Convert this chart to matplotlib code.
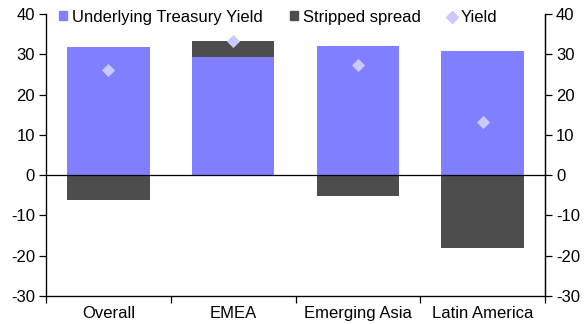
import matplotlib
matplotlib.use("Agg")
import matplotlib.pyplot as plt
import numpy as np
from matplotlib.lines import Line2D
from matplotlib.patches import Patch

plt.rcParams['font.family'] = ['Liberation Sans', 'DejaVu Sans']
plt.rcParams['font.size'] = 12
plt.rcParams['axes.unicode_minus'] = False

categories = ["Overall", "EMEA", "Emerging Asia", "Latin America"]
treasury = [31.8, 29.3, 32.0, 30.8]
spread = [-6.2, 4.0, -5.1, -18.0]
yield_ = [26.0, 33.3, 27.3, 13.3]

blue = "#7F7FFF"
dark = "#4D4D4D"
light = "#C9C9FF"

fig = plt.figure(figsize=(5.84, 3.24), dpi=100)
ax = fig.add_axes([46/584, 1 - 296/324, (545-46)/584, (296-14)/324])

x = np.arange(len(categories))
w = 0.66
ax.bar(x, treasury, w, color=blue, zorder=2)
bottoms = [t if s > 0 else 0 for t, s in zip(treasury, spread)]
ax.bar(x, spread, w, bottom=bottoms, color=dark, zorder=2)
ax.scatter(x, yield_, marker="D", s=45, color=light, zorder=3, linewidths=0)
ax.axhline(0, color="black", lw=0.9, zorder=4)

ax.set_xlim(-0.5, len(categories) - 0.5)
ax.set_ylim(-30, 40)
ax.set_yticks(range(-30, 41, 10))
ax.set_xticks(x)
ax.set_xticklabels(categories)
ax.set_xticks(np.arange(-0.5, len(categories), 1), minor=True)
ax.tick_params(axis="x", which="major", length=0, pad=7)
ax.tick_params(axis="x", which="minor", length=5, direction="out", width=0.9)
ax.tick_params(axis="y", length=5, direction="out", width=0.9, pad=3)
ax.spines["top"].set_visible(False)
for side in ["left", "bottom", "right"]:
    ax.spines[side].set_linewidth(0.9)

ax2 = ax.twinx()
ax2.set_ylim(-30, 40)
ax2.set_yticks(range(-30, 41, 10))
ax2.tick_params(axis="y", length=5, direction="out", width=0.9, pad=3)
ax2.spines["top"].set_visible(False)
ax2.spines["right"].set_linewidth(0.9)

handles = [
    Patch(color=blue, label="Underlying Treasury Yield"),
    Patch(color=dark, label="Stripped spread"),
    Line2D([], [], marker="D", color=light, ls="none", markersize=6, label="Yield"),
]
ax.legend(handles=handles, ncol=3, loc="upper left", bbox_to_anchor=(0.02, 1.027),
          frameon=False, handlelength=0.45, handleheight=0.45, handletextpad=0.3,
          columnspacing=1.65, borderaxespad=0, borderpad=0.2, fontsize=12)

fig.savefig("out.png", dpi=100)
